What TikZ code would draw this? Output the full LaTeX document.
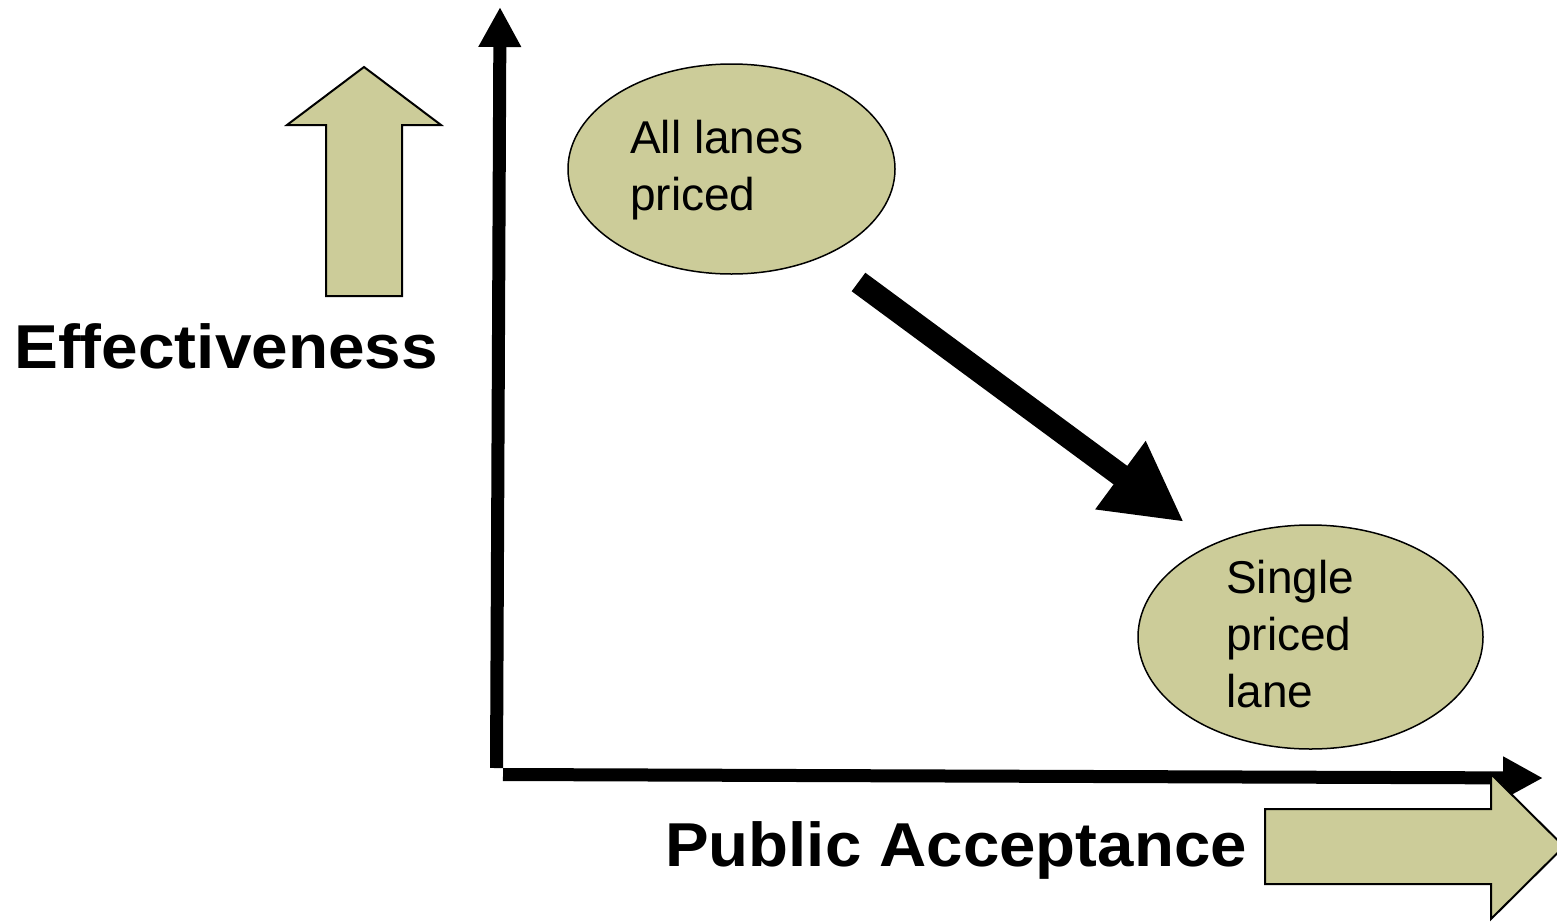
\documentclass[tikz,border=0pt]{standalone}
\usepackage{fontspec}
\setmainfont{Liberation Sans}
\usetikzlibrary{arrows.meta,shapes.geometric}
\definecolor{palegreen}{RGB}{204,204,153}
\tikzset{
  axisline/.style={line width=13pt,-{Triangle[length=40pt,width=40pt]}},
  bigarrow/.style={line width=23pt,-{Triangle[length=79pt,width=79pt]}},
  ovalbox/.style={ellipse,draw=black,line width=1.5pt,fill=palegreen,inner sep=0pt},
  fatarrow/.style={draw=black,line width=2pt,fill=palegreen,line join=miter},
  ovaltext/.style={align=left,inner sep=0pt,font=\fontsize{46}{57}\selectfont},
  axistitle/.style={inner sep=0pt,font=\fontsize{62}{70}\selectfont\bfseries}
}
\begin{document}
\begin{tikzpicture}[x=1pt,y=-1pt]
\clip (0,0) rectangle (1557,921);
\fill[white] (0,0) rectangle (1557,921);
% axes
\coordinate (origv) at (496.5,768);
\coordinate (ytip) at (500,7);
\coordinate (origh) at (503,774.5);
\coordinate (xtip) at (1543,778);
\draw[axisline] (origv) -- (ytip);
\draw[axisline] (origh) -- (xtip);
% up arrow
\draw[fatarrow] (326,296) -- (326,125) -- (287,125) -- (364,67) -- (441,125) -- (402,125) -- (402,296) -- cycle;
% right arrow
\draw[fatarrow] (1265,809) -- (1491,809) -- (1491,774) -- (1564,846.5) -- (1491,919) -- (1491,884) -- (1265,884) -- cycle;
% ellipses
\node[ovalbox,minimum width=327pt,minimum height=210pt] (allpriced) at (731.5,169) {};
\node[ovalbox,minimum width=345pt,minimum height=224pt] (single) at (1310.5,637) {};
\node[ovaltext,anchor=base west] (alltext) at (630,210) {All lanes\\priced};
\node[ovaltext,anchor=base west] (singletext) at (1226,707) {Single\\priced\\lane};
% big arrow
\coordinate (bstart) at (858.5,282);
\coordinate (bend) at (1184,522);
\draw[bigarrow] (bstart) -- (bend);
% titles
\node[axistitle,anchor=base west] (eff) at (14,368) {\scalebox{1.06}[1]{Effectiveness}};
\node[axistitle,anchor=base west] (pub) at (665,866) {\scalebox{1.055}[1]{Public Acceptance}};
\end{tikzpicture}
\end{document}
